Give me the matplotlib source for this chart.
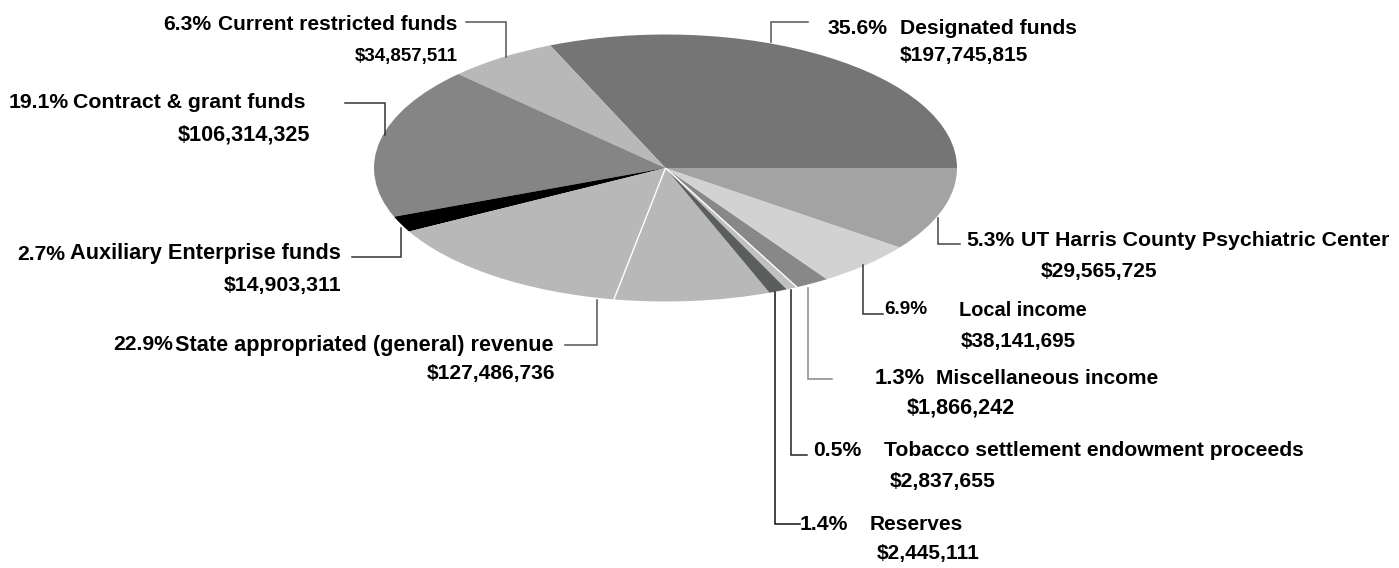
import numpy as np
import matplotlib
matplotlib.use('Agg')
import matplotlib.pyplot as plt

# wedge sizes (degrees), counter-clockwise from east
# the drawn pie is not to scale with the printed percentages
slice_names = ['Designated', 'Current restricted', 'Contract & grant', 'Auxiliary',
               'State a', 'State b', 'Reserves', 'Tobacco', 'Miscellaneous', 'Local', 'UT Harris']
slice_degrees = [113.3, 22.0, 66.1, 7.0, 51.4, 31.1, 3.7, 2.2, 6.8, 19.9, 36.5]
slice_colors = ['#757575', '#b8b8b8', '#858585', '#000000', '#b8b8b8', '#b8b8b8',
                '#5a5f5c', '#c0c0c0', '#888888', '#d2d2d2', '#a3a3a3']
white_after = ['State a', 'Tobacco']

percents = ['35.6%', '6.3%', '19.1%', '2.7%', '22.9%', '1.4%', '0.5%', '1.3%', '6.9%', '5.3%']
names = ['Designated funds', 'Current restricted funds', 'Contract & grant funds',
         'Auxiliary Enterprise funds', 'State appropriated (general) revenue', 'Reserves',
         'Tobacco settlement endowment proceeds', 'Miscellaneous income', 'Local income',
         'UT Harris County Psychiatric Center']
amounts = ['$197,745,815', '$34,857,511', '$106,314,325', '$14,903,311', '$127,486,736',
           '$2,445,111', '$2,837,655', '$1,866,242', '$38,141,695', '$29,565,725']

# layout, pixels: pct x, name x, line y, amount x, amount y
pct_x = [828, 163, 9, 17, 113, 800, 813, 875, 884, 966]
name_x = [900, 218, 73, 70, 175, 870, 884, 936, 959, 1021]
line_y = [28, 24, 103, 254, 345, 524, 451, 378, 310, 240]
amount_x = [900, 355, 178, 224, 427, 877, 890, 907, 961, 1041]
amount_y = [55, 56, 135, 285, 374, 554, 481, 408, 341, 272]

# font sizes vary, the original labels are stretched unevenly
pct_size = [15.2, 15.2, 15.2, 15.2, 15.2, 15.2, 15.2, 15.8, 13.6, 15.2]
name_size = [15.2, 15.0, 15.3, 15.7, 15.6, 15.0, 15.2, 15.0, 14.4, 15.3]
amount_size = [15.1, 13.5, 15.6, 15.3, 15.1, 15.0, 15.2, 15.6, 14.9, 15.1]

leaders = [([771, 771, 808], [42, 22, 22]),
           ([466, 506, 506], [22, 22, 57]),
           ([345, 385, 385], [103, 103, 135]),
           ([352, 401, 401], [257, 257, 228]),
           ([565, 597, 597], [345, 345, 300]),
           ([775, 775, 800], [292, 524, 524]),
           ([791, 791, 807], [290, 455, 455]),
           ([808, 808, 832], [288, 379, 379]),
           ([863, 863, 883], [265, 314, 314]),
           ([938, 938, 960], [218, 244, 244])]
leader_grey = ['#555555', '#555555', '#333333', '#333333', '#555555',
               '#111111', '#222222', '#888888', '#333333', '#444444']

plt.rcParams['font.family'] = ['Liberation Sans', 'DejaVu Sans']
W, H = 1399, 568
fig = plt.figure(figsize=(W / 100, H / 100), dpi=100, facecolor='white')

# pie squashed to an ellipse
cx, cy, rx, ry = 665.5, 168, 291.5, 133.5
ax = fig.add_axes([(cx - rx) / W, 1 - (cy + ry) / H, 2 * rx / W, 2 * ry / H])
wedges, _ = ax.pie(slice_degrees, colors=slice_colors, startangle=0, counterclock=True,
                   radius=1, wedgeprops={'linewidth': 0})
ax.set_aspect('auto')
ax.set_xlim(-1, 1)
ax.set_ylim(-1, 1)
for name, w in zip(slice_names, wedges):
    if name in white_after:
        a = np.radians(w.theta2)
        ax.plot([0, np.cos(a)], [0, np.sin(a)], color='white', lw=1.0, solid_capstyle='butt')

# labels and leader lines in pixel coordinates
ov = fig.add_axes([0, 0, 1, 1], facecolor='none')
ov.set_xlim(0, W)
ov.set_ylim(H, 0)
ov.axis('off')
for (xs, ys), c in zip(leaders, leader_grey):
    ov.plot(xs, ys, color=c, lw=1.1, solid_joinstyle='miter')

for i in range(len(names)):
    ov.text(pct_x[i], line_y[i], percents[i], fontsize=pct_size[i], fontweight='bold', va='center')
    ov.text(name_x[i], line_y[i], names[i], fontsize=name_size[i], fontweight='bold', va='center')
    ov.text(amount_x[i], amount_y[i], amounts[i], fontsize=amount_size[i], fontweight='bold', va='center')

fig.savefig('out.png', dpi=100)
